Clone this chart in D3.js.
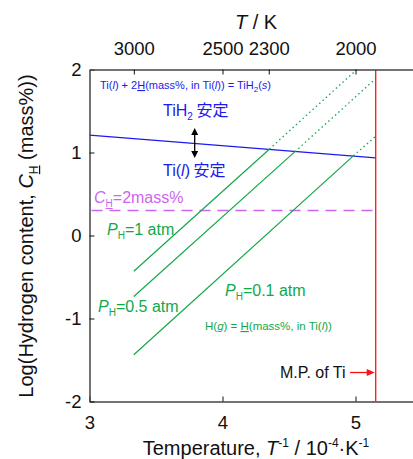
<!DOCTYPE html>
<html><head><meta charset="utf-8">
<script src="https://cdn.jsdelivr.net/npm/d3@7"></script>
<style>body{margin:0;background:#fff;} svg{display:block;font-family:"Liberation Sans",Arial,sans-serif;}</style>
</head><body>
<script>
// ---- data ----
const xTicks = [3, 4, 5];
const yTicks = [-2, -1, 0, 1, 2];
const topTicksK = [3000, 2500, 2300, 2000];
const tiH2Line = [[3.0, 1.21], [5.152, 0.935]];          // TiH2 / Ti(l) boundary
const ch2Level = 0.301;                                     // log10(2 mass%)
const mpTi = 5.152;                                         // 1/1941K *1e4
const seriesNames = ["1 atm", "0.5 atm", "0.1 atm"];
const solidPts = [
  [[3.333, -0.43], [4.352, 1.04]],
  [[3.333, -0.735], [4.545, 1.01]],
  [[3.333, -1.436], [4.984, 0.96]]
];
const dottedPts = [
  [[4.352, 1.04], [5.01, 2.0]],
  [[4.545, 1.01], [5.152, 1.89]],
  [[4.984, 0.96], [5.152, 1.196]]
];

const W = 413, H = 459;
const svg = d3.select("body").append("svg").attr("width", W).attr("height", H);
const x = d3.scaleLinear().domain([3, 5.5]).range([89.5, 422]);
const y = d3.scaleLinear().domain([-2, 2]).range([401.5, 69.5]);
const blue = "#1a1aee", green = "#12a84a", mag = "#cc66ee", red = "#ff1010", axisC = "#444";

// clip
svg.append("clipPath").attr("id", "c").append("rect")
  .attr("x", x(3)).attr("y", y(2)).attr("width", x(5.5) - x(3)).attr("height", y(-2) - y(2));
const g = svg.append("g").attr("clip-path", "url(#c)");
const line = d3.line().x(d => x(d[0])).y(d => y(d[1]));

// magenta dashed
g.append("line").attr("x1", x(3)).attr("x2", x(mpTi)).attr("y1", y(ch2Level)).attr("y2", y(ch2Level))
  .attr("stroke", mag).attr("stroke-width", 1.5).attr("stroke-dasharray", "11,7").attr("stroke-dashoffset", -2);
// blue line
g.append("path").attr("d", line(tiH2Line)).attr("fill", "none").attr("stroke", blue).attr("stroke-width", 1.3);
// green lines
solidPts.forEach(p => g.append("path").attr("d", line(p)).attr("fill", "none").attr("stroke", green).attr("stroke-width", 1.2));
dottedPts.forEach(p => g.append("path").attr("d", line(p)).attr("fill", "none").attr("stroke", green).attr("stroke-width", 1.3).attr("stroke-dasharray", "1.5,3"));
// red MP line
g.append("line").attr("x1", x(mpTi)).attr("x2", x(mpTi)).attr("y1", y(2)).attr("y2", y(-2)).attr("stroke", red).attr("stroke-width", 1.3);

// axes
const fs = 18.5;
const xa = svg.append("g").attr("transform", `translate(0,${y(-2)})`)
  .call(d3.axisBottom(x).tickValues(xTicks).tickSizeInner(-5).tickSizeOuter(0).tickPadding(14).tickFormat(d3.format("d")));
const ya = svg.append("g").attr("transform", `translate(${x(3)},0)`)
  .call(d3.axisLeft(y).tickValues(yTicks).tickSizeInner(-5).tickSizeOuter(0).tickPadding(8).tickFormat(d => d < 0 ? "-" + Math.abs(d) : d));
const ta = svg.append("g").attr("transform", `translate(0,${y(2)})`)
  .call(d3.axisTop(x).tickValues(topTicksK.map(k => 1e4 / k)).tickSizeInner(-5).tickSizeOuter(0).tickPadding(15).tickFormat((d, i) => topTicksK[i]));
[xa, ya, ta].forEach(a => {
  a.selectAll("path").attr("stroke", axisC).attr("stroke-width", 1.5);
  a.selectAll("line").attr("stroke", "#111").attr("stroke-width", 1);
  a.selectAll("text").attr("font-size", fs).attr("fill", "#111").attr("font-family", "Liberation Sans, Arial, sans-serif");
});
ya.selectAll("text").attr("dy", "0.35em");

// axis titles
svg.append("text").attr("x", 256).attr("y", 29).attr("text-anchor", "middle").attr("font-size", 20).attr("fill", "#111")
  .html('<tspan font-style="italic">T</tspan> / K');
svg.append("text").attr("x", 256).attr("y", 455).attr("text-anchor", "middle").attr("font-size", 20).attr("fill", "#111")
  .html('Temperature, <tspan font-style="italic">T</tspan><tspan font-size="12" dy="-8">-1</tspan><tspan dy="8"> / 10</tspan><tspan font-size="12" dy="-8">-4</tspan><tspan dy="8">·K</tspan><tspan font-size="12" dy="-8">-1</tspan>');
svg.append("text").attr("transform", `translate(33,236) rotate(-90)`).attr("text-anchor", "middle").attr("font-size", 20).attr("fill", "#111")
  .html('Log(Hydrogen content, <tspan font-style="italic">C</tspan><tspan font-size="12" dy="5" text-decoration="underline">H</tspan><tspan dy="-5"> (mass%))</tspan>');

// annotations
svg.append("text").attr("x", 100).attr("y", 89).attr("font-size", 11).attr("fill", blue)
  .html('Ti(<tspan font-style="italic">l</tspan>) + 2<tspan text-decoration="underline">H</tspan>(mass%, in Ti(<tspan font-style="italic">l</tspan>)) = TiH<tspan font-size="8" dy="3">2</tspan><tspan dy="-3">(</tspan><tspan font-style="italic">s</tspan>)');
svg.append("text").attr("x", 163).attr("y", 116).attr("font-size", 16).attr("fill", blue)
  .html('TiH<tspan font-size="10" dy="4">2</tspan><tspan dy="-4" font-family="Noto Sans CJK JP"> 安定</tspan>');
svg.append("text").attr("x", 163).attr("y", 176).attr("font-size", 16).attr("fill", blue)
  .html('Ti(<tspan font-style="italic">l</tspan>)<tspan font-family="Noto Sans CJK JP"> 安定</tspan>');
// double arrow
const ax = 194.7;
svg.append("line").attr("x1", ax).attr("x2", ax).attr("y1", 131).attr("y2", 155).attr("stroke", "#000").attr("stroke-width", 1.3);
svg.append("path").attr("d", `M${ax},128 l-3.5,7 l7,0 z M${ax},158 l-3.5,-7 l7,0 z`).attr("fill", "#000");

svg.append("text").attr("x", 94).attr("y", 203).attr("font-size", 16).attr("fill", mag)
  .html('<tspan font-style="italic">C</tspan><tspan font-size="10" dy="4" text-decoration="underline">H</tspan><tspan dy="-4">=2mass%</tspan>');
const pLabels = [[107, 235], [98, 312], [225, 296]];
seriesNames.forEach((n, i) => {
  svg.append("text").attr("x", pLabels[i][0]).attr("y", pLabels[i][1]).attr("font-size", 16).attr("fill", green)
    .html(`<tspan font-style="italic">P</tspan><tspan font-size="10" dy="4">H</tspan><tspan dy="-4">=${n}</tspan>`);
});
svg.append("text").attr("x", 205).attr("y", 330).attr("font-size", 11.5).attr("fill", green)
  .html('H(<tspan font-style="italic">g</tspan>) = <tspan text-decoration="underline">H</tspan>(mass%, in Ti(<tspan font-style="italic">l</tspan>))');
svg.append("text").attr("x", 280).attr("y", 378).attr("font-size", 16).attr("fill", "#111").text("M.P. of Ti");
svg.append("line").attr("x1", 350).attr("x2", 368).attr("y1", 372.5).attr("y2", 372.5).attr("stroke", red).attr("stroke-width", 1.3);
svg.append("path").attr("d", `M${x(mpTi) - 1},372.5 l-8,-3.5 l0,7 z`).attr("fill", red);
</script>
</body></html>
